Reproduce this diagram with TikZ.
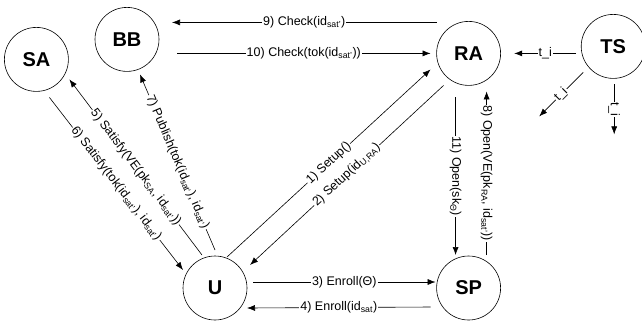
\documentclass[tikz,border=0pt]{standalone}
\usepackage{fontspec}
\setmainfont{Liberation Sans}
\usepackage{tikz}
\usetikzlibrary{positioning,arrows.meta}
\tikzset{every picture/.style={line width=0.6pt}}
\tikzset{
  party/.style={draw, circle, minimum size=64pt, inner sep=0pt, font=\fontsize{20}{24}\selectfont\bfseries},
  lbl/.style={fill=white, inner sep=1pt, font=\fontsize{12.5}{15}\selectfont}
}
\newcommand{\low}[1]{\textsubscript{#1}}

\begin{document}
\begin{tikzpicture}[x=1pt, y=-1pt, >={Latex[length=8pt,width=6pt]}]
    \useasboundingbox (0,0) rectangle (642,322);
    % Parties
    \node[party] (u) at (215,288) {U};
    \node[party, right=189pt of u] (sp) {SP};
    \node[party, above=170pt of sp] (ra) {RA};
    \node[party, right=80pt of ra, yshift=7pt] (ts) {TS};
    \node[party, left=277pt of ra, yshift=14pt] (bb) {BB};
    \node[party, left=26pt of bb, yshift=-20pt] (sa) {SA};

    % Free ends of the time signals
    \coordinate (tiw) at ([shift={(-99,7)}]ts.center);
    \coordinate (tisw) at ([shift={(-74,70)}]ts.center);
    \coordinate (tis) at ([shift={(1,88)}]ts.center);

    % Messages
    \draw[->] ([shift={(12,-31)}]u.center) -- node[lbl, sloped] {1) Setup()} ([shift={(-38,16)}]ra.center);
    \draw[->] ([shift={(-25,32)}]ra.center) -- node[lbl, sloped] {2) Setup(id\low{U,RA})} ([shift={(35,-23)}]u.center);
    \draw[->] ([shift={(38,-6)}]u.center) -- node[lbl] {3) Enroll(Θ)} ([shift={(-33,-6)}]sp.center);
    \draw[->] ([shift={(-38,19)}]sp.center) -- node[lbl] {4) Enroll(id\low{sat})} ([shift={(32,20)}]u.center);
    \draw[->] ([shift={(-13,-33)}]u.center) -- node[lbl, sloped] {5) Satisfy(VE(pk\low{SA}, id\low{sat'}))} ([shift={(33,20)}]sa.center);
    \draw[->] ([shift={(13,38)}]sa.center) -- node[lbl, sloped] {6) Satisfy(tok(id\low{sat'}), id\low{sat'})} ([shift={(-32,-18)}]u.center);
    \draw[->] ([shift={(0,-38)}]u.center) -- node[lbl, sloped] {7) Publish(tok(id\low{sat'}), id\low{sat'})} ([shift={(13,35)}]bb.center);
    \draw[->] ([shift={(18,-33)}]sp.center) -- node[lbl, rotate=-90] {8) Open(VE(pk\low{RA}, id\low{sat'}))} ([shift={(18,38)}]ra.center);
    \draw[->] ([shift={(-32,-31)}]ra.center) -- node[lbl] {9) Check(id\low{sat'})} ([shift={(45,-17)}]bb.center);
    \draw[->] ([shift={(50,14)}]bb.center) -- node[lbl] {10) Check(tok(id\low{sat'}))} ([shift={(-38,0)}]ra.center);
    \draw[->] ([shift={(-13,44)}]ra.center) -- node[lbl, rotate=-90] {11) Open(sk\low{Θ})} ([shift={(-13,-33)}]sp.center);

    % Time signals
    \draw[->] ([shift={(-37,7)}]ts.center) -- node[lbl] {t\_i} (tiw);
    \draw[->] ([shift={(-30,26)}]ts.center) -- node[lbl, sloped] {t\_i} (tisw);
    \draw[->] ([shift={(1,38)}]ts.center) -- node[lbl, rotate=-90] {t\_i} (tis);
\end{tikzpicture}
\end{document}
